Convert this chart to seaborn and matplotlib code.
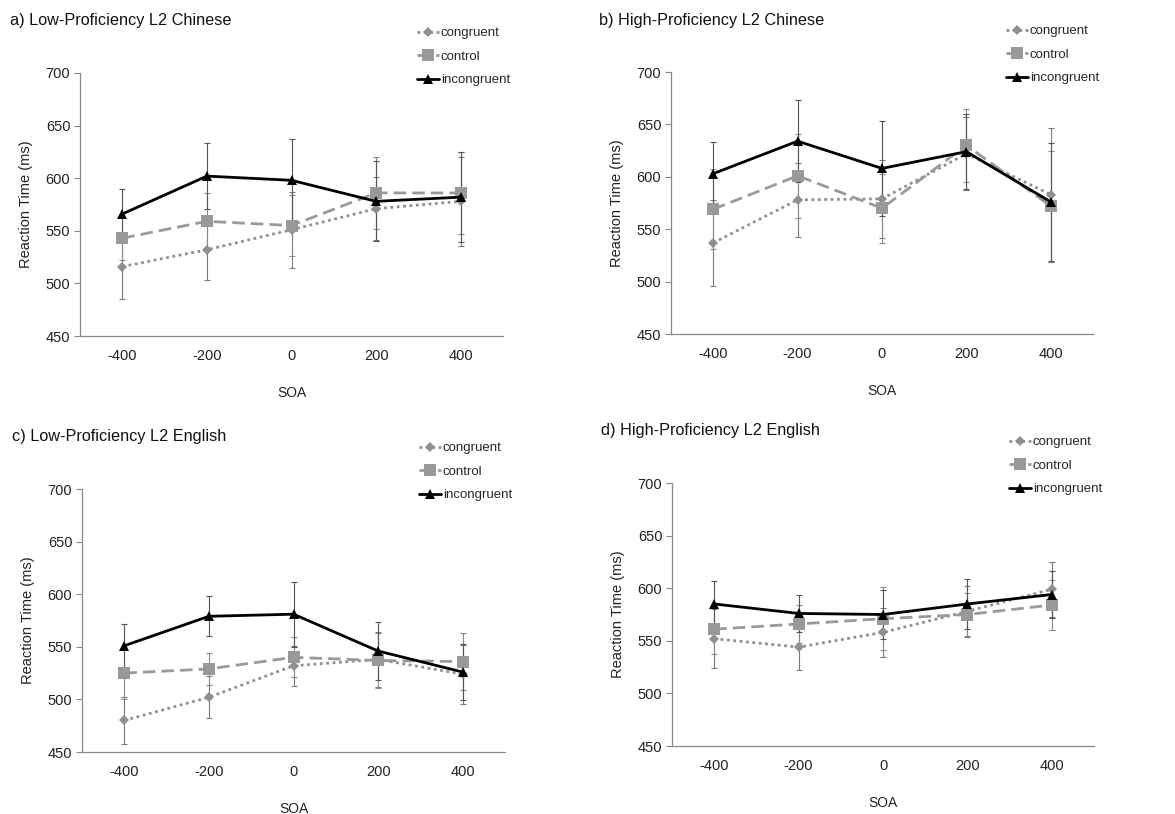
import numpy as np
import pandas as pd
import matplotlib
matplotlib.use("Agg")
import matplotlib.pyplot as plt
import seaborn as sns

sns.set_theme(style="white")
plt.rcParams['font.family'] = ['Liberation Sans', 'DejaVu Sans']

soa_labels = ["-400", "-200", "0", "200", "400"]
conditions = ["congruent", "control", "incongruent"]

titles = ["a) Low-Proficiency L2 Chinese", "b) High-Proficiency L2 Chinese",
          "c) Low-Proficiency L2 English", "d) High-Proficiency L2 English"]

# means per panel
a_congruent = [516, 532, 551, 571, 578]
a_control = [543, 559, 555, 586, 586]
a_incongruent = [566, 602, 598, 578, 582]
a_err_congruent = [31, 29, 36, 30, 42]
a_err_control = [21, 27, 29, 34, 39]
a_err_incongruent = [24, 31, 39, 38, 43]

b_congruent = [537, 578, 579, 622, 583]
b_control = [569, 601, 570, 630, 572]
b_incongruent = [603, 634, 608, 624, 576]
b_err_congruent = [41, 35, 37, 35, 64]
b_err_control = [38, 40, 33, 35, 53]
b_err_incongruent = [30, 39, 45, 36, 56]

c_congruent = [480, 502, 532, 538, 524]
c_control = [525, 529, 540, 537, 536]
c_incongruent = [551, 579, 581, 546, 526]
c_err_congruent = [22, 20, 19, 26, 28]
c_err_control = [25, 15, 19, 26, 27]
c_err_incongruent = [21, 19, 31, 28, 27]

d_congruent = [552, 544, 558, 578, 599]
d_control = [561, 566, 571, 575, 584]
d_incongruent = [585, 576, 575, 585, 594]
d_err_congruent = [28, 22, 23, 24, 26]
d_err_control = [24, 18, 30, 20, 24]
d_err_incongruent = [22, 18, 23, 24, 22]

panels = [
    (a_congruent, a_control, a_incongruent, a_err_congruent, a_err_control, a_err_incongruent),
    (b_congruent, b_control, b_incongruent, b_err_congruent, b_err_control, b_err_incongruent),
    (c_congruent, c_control, c_incongruent, c_err_congruent, c_err_control, c_err_incongruent),
    (d_congruent, d_control, d_incongruent, d_err_congruent, d_err_control, d_err_incongruent),
]

palette = {"congruent": "#8f8f8f", "control": "#999999", "incongruent": "#000000"}
err_colors = {"congruent": "#7a7a7a", "control": "#8a8a8a", "incongruent": "#555555"}
markers = {"congruent": "D", "control": "s", "incongruent": "^"}
dashes = {"congruent": (1, 1.3), "control": (4.5, 2.2), "incongruent": ""}
msizes = {"congruent": 5, "control": 8, "incongruent": 7}

W, H = 1175, 814
fig = plt.figure(figsize=(W / 100, H / 100), dpi=100)

axes_px = [(80, 73, 503, 336), (671, 72, 1093, 334), (82, 489, 505, 752), (672, 483, 1094, 746)]
title_px = [(10, 20), (599, 20), (12, 437), (601, 431)]
legend_px = [(417, 27), (1006, 25), (419, 442), (1009, 436)]

for i, (vals, box, tpos, lpos) in enumerate(zip(panels, axes_px, title_px, legend_px)):
    x0, y0, x1, y1 = box
    ax = fig.add_axes([x0 / W, 1 - y1 / H, (x1 - x0) / W, (y1 - y0) / H])
    rows = []
    for c, series in zip(conditions, vals[:3]):
        for p, v in enumerate(series):
            rows.append({"pos": p, "SOA": soa_labels[p], "condition": c, "rt": v})
    df = pd.DataFrame(rows)
    # error bars
    for c, series, err in zip(conditions, vals[:3], vals[3:]):
        ax.errorbar(range(len(soa_labels)), series, yerr=err, fmt="none",
                    ecolor=err_colors[c], elinewidth=0.8, capsize=2, capthick=0.8, zorder=1)
    sns.lineplot(data=df, x="pos", y="rt", hue="condition", style="condition",
                 palette=palette, markers=markers, dashes=dashes, hue_order=conditions,
                 style_order=conditions, linewidth=2, markeredgewidth=0, ax=ax, zorder=3)
    # marker sizes
    for l in ax.get_lines():
        m = l.get_marker()
        if m in ("D", "s", "^"):
            c = {"D": "congruent", "s": "control", "^": "incongruent"}[m]
            l.set_markersize(msizes[c])
    handles, labels = ax.get_legend_handles_labels()
    ax.legend(handles, labels, loc="upper left",
              bbox_to_anchor=(lpos[0] / W, 1 - lpos[1] / H), bbox_transform=fig.transFigure,
              frameon=False, fontsize=9.5, handlelength=1.7, handletextpad=0.1,
              labelspacing=0.85, borderpad=0, borderaxespad=0)

    ax.set_xlim(-0.5, 4.5)
    ax.set_ylim(450, 700)
    ax.set_yticks([450, 500, 550, 600, 650, 700])
    ax.set_xticks(range(5))
    ax.set_xticklabels(soa_labels)
    ax.set_xticks(np.arange(-0.5, 5, 1), minor=True)
    ax.tick_params(axis="x", which="major", length=0, labelsize=10.5, pad=9, colors="#222222")
    ax.tick_params(axis="x", which="minor", length=4, width=0.8, color="#888888", direction="out")
    ax.tick_params(axis="y", which="major", length=4, width=0.8, color="#888888",
                   direction="out", labelsize=10.5, pad=3, left=True, labelcolor="#222222")
    for s in ["top", "right"]:
        ax.spines[s].set_visible(False)
    for s in ["left", "bottom"]:
        ax.spines[s].set_color("#888888")
        ax.spines[s].set_linewidth(0.9)
    ax.set_xlabel("SOA", fontsize=10, labelpad=17, color="#222222")
    ax.set_ylabel("Reaction Time (ms)", fontsize=10.5, labelpad=9, color="#222222")
    fig.text(tpos[0] / W, 1 - tpos[1] / H, titles[i], fontsize=11.7, va="center", ha="left",
             color="#111111")

fig.savefig("out.png", dpi=100)
